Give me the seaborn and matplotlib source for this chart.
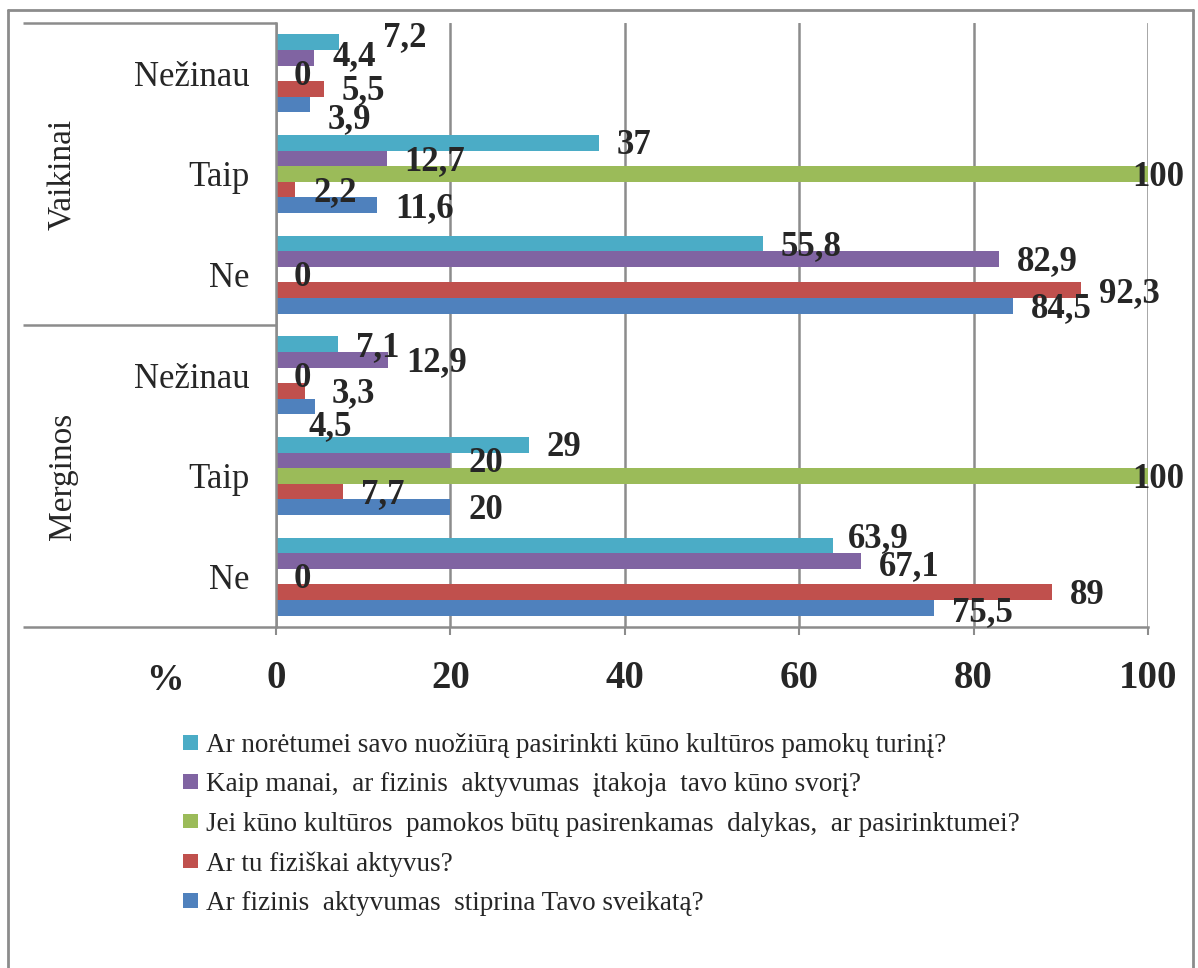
import matplotlib
matplotlib.use("Agg")
import matplotlib.pyplot as plt
import matplotlib.transforms as mtransforms
from matplotlib.lines import Line2D
from matplotlib.patches import Patch
import pandas as pd
import seaborn as sns

# ---- data -------------------------------------------------------------
groups = ["Vaikinai", "Vaikinai", "Vaikinai", "Merginos", "Merginos", "Merginos"]
answers = ["Nežinau", "Taip", "Ne", "Nežinau", "Taip", "Ne"]
questions = [
    "Ar norėtumei savo nuožiūrą pasirinkti kūno kultūros pamokų turinį?",
    "Kaip manai,  ar fizinis  aktyvumas  įtakoja  tavo kūno svorį?",
    "Jei kūno kultūros  pamokos būtų pasirenkamas  dalykas,  ar pasirinktumei?",
    "Ar tu fiziškai aktyvus?",
    "Ar fizinis  aktyvumas  stiprina Tavo sveikatą?",
]
turinys = [7.2, 37, 55.8, 7.1, 29, 63.9]
svoris = [4.4, 12.7, 82.9, 12.9, 20, 67.1]
pasirinkimas = [0, 100, 0, 0, 100, 0]
aktyvus = [5.5, 2.2, 92.3, 3.3, 7.7, 89]
sveikata = [3.9, 11.6, 84.5, 4.5, 20, 75.5]
x_ticks = [0, 20, 40, 60, 80, 100]

series_values = [turinys, svoris, pasirinkimas, aktyvus, sveikata]
colors = ["#4BACC6", "#8064A2", "#9BBB59", "#C0504D", "#4F81BD"]

keys = [f"{g}|{a}" for g, a in zip(groups, answers)]
df = pd.DataFrame(
    [(k, q, v) for q, vals in zip(questions, series_values) for k, v in zip(keys, vals)],
    columns=["kategorija", "klausimas", "procentai"],
)

# ---- style ------------------------------------------------------------
sns.set_style("white")
plt.rcParams["font.family"] = ["Liberation Serif", "DejaVu Serif"]

W, H = 1198, 968
fig = plt.figure(figsize=(W / 100, H / 100), dpi=100)
ax = fig.add_axes([276 / W, 1 - 627 / H, (1148 - 276) / W, (627 - 23) / H])

sns.barplot(
    data=df, y="kategorija", x="procentai", hue="klausimas",
    order=keys, hue_order=questions, palette=colors, orient="h",
    width=0.775, saturation=1, legend=False, errorbar=None,
    linewidth=0, edgecolor="none", ax=ax,
)

grid_c = "#8c8c8c"
ax.set_xlim(0, 100)
ax.set_xticks(x_ticks)
ax.set_xticklabels([str(t) for t in x_ticks], fontsize=28, fontweight="bold")
ax.tick_params(axis="x", length=6, width=1.5, color=grid_c, pad=18, bottom=True)
ax.set_yticks(range(len(keys)))
ax.set_yticklabels(answers, fontsize=25)
ax.tick_params(axis="y", length=0, pad=19)
ax.set_xlabel("")
ax.set_ylabel("")
ax.xaxis.grid(True, color=grid_c, lw=1.8)
ax.set_axisbelow(True)
for s in ["top", "right"]:
    ax.spines[s].set_visible(False)
for s in ["left", "bottom"]:
    ax.spines[s].set_color(grid_c)
    ax.spines[s].set_linewidth(1.8)

# ---- value labels -----------------------------------------------------
px = 0.72  # points per pixel at 100 dpi
nudges = {  # (series, category): (dx, dy) in pixels, dy downwards
    (0, 0): (26, -8),
    (1, 0): (0, -4),
    (3, 0): (0, -1),
    (4, 0): (0, 12),
    (3, 3): (9, 0),
    (4, 3): (-25, 17),
    (2, 1): (-34, 0),
    (2, 4): (-34, 0),
    (0, 5): (-3, -10),
    (1, 5): (0, 3),
    (4, 5): (0, 2),
}
for si, (cont, vals) in enumerate(zip(ax.containers, series_values)):
    for ci, (bar, v) in enumerate(zip(cont, vals)):
        dx, dy = nudges.get((si, ci), (0, 0))
        yc = bar.get_y() + bar.get_height() / 2
        ax.annotate(
            f"{v:g}".replace(".", ","), xy=(v, yc),
            xytext=((18 + dx) * px, -(3 + dy) * px), textcoords="offset points",
            ha="left", va="center", fontsize=25, fontweight="bold",
            annotation_clip=False,
        )

# ---- category frame on the left ----------------------------------------
ln_kw = dict(color=grid_c, lw=1.8, solid_capstyle="butt")
blend = mtransforms.blended_transform_factory(fig.transFigure, ax.transData)
x_left = 23 / W
x_axis = 276 / W
for yy in (-0.5, 2.5, 5.5):
    fig.add_artist(Line2D([x_left, x_axis], [yy, yy], transform=blend, **ln_kw))

for name, yc in [("Vaikinai", 1), ("Merginos", 4)]:
    fig.text(63 / W, yc, name, transform=blend, rotation=90,
             ha="center", va="center", fontsize=24)

fig.text(165 / W, 1 - 680 / H, "%", ha="center", va="center",
         fontsize=27, fontweight="bold")

# ---- legend -----------------------------------------------------------
handles = [Patch(facecolor=c, edgecolor="none") for c in colors]
fig.legend(
    handles, questions, loc="upper left",
    bbox_to_anchor=(183 / W, 1 - 733 / H), frameon=False,
    fontsize=19.5, handlelength=0.55, handleheight=0.45, handletextpad=0.3,
    labelspacing=0.53, borderaxespad=0, borderpad=0,
)

# ---- outer border -----------------------------------------------------
border = dict(color="#8c8c8c", lw=2)
fig.add_artist(Line2D([8 / W, 8 / W], [0, 1 - 10 / H], **border))
fig.add_artist(Line2D([8 / W, 1193 / W], [1 - 10 / H, 1 - 10 / H], **border))
fig.add_artist(Line2D([1193 / W, 1193 / W], [0, 1 - 10 / H], **border))

fig.savefig("out.png", dpi=100, facecolor="white")
